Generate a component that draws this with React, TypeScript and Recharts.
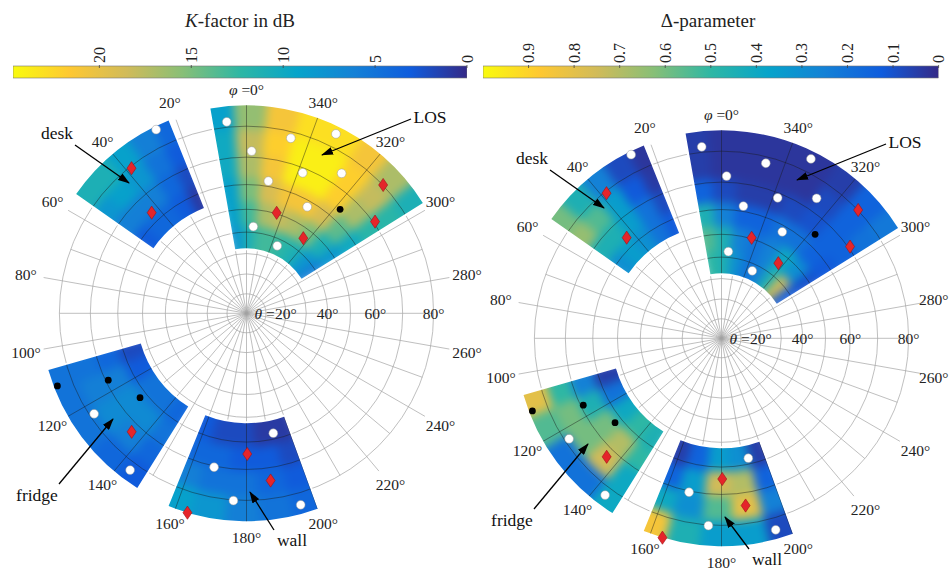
import React from 'react';
import { PieChart, Pie, Cell, PolarGrid, ScatterChart, Scatter, XAxis, YAxis, BarChart, Bar } from 'recharts';

const FONT = '"Liberation Serif", "DejaVu Serif", serif';

// panel geometry (local px), stereographic radial mapping r = K tan(theta/2)
const PW = 500;
const PH = 490;
const CX = 246.5;
const CY = 233.3;
const K = 223;
const PAGE_W = 951;
const rOf = (theta: number) => K * Math.tan(((theta / 2) * Math.PI) / 180);

// grid
const thetaCircles = [10, 20, 30, 40, 50, 60, 70, 80];
const phiMajor = [0, 20, 40, 60, 80, 100, 120, 140, 160, 180, 200, 220, 240, 260, 280, 300, 320, 340];
const phiMinor = [10, 30, 50, 70, 90, 110, 130, 150, 170, 190, 210, 230, 250, 270, 290, 310, 330, 350];
const radialLabels = [40, 60, 80];

// measured sectors
const sectorNames = ['LOS', 'desk', 'fridge', 'wall'];
const sectorPhiFrom = [302, 22, 106, 158];
const sectorPhiTo = [370, 55, 148, 200];
const sectorThetaIn = [32.5, 54, 52.5, 52.5];
const sectorThetaOut = [86, 86, 85.5, 86];

// K-factor in dB (rows: inner -> outer, columns: phiFrom -> phiTo)
const losK = [
  [6, 8, 11, 12, 13, 13, 11, 8],
  [8, 11, 15, 17, 18, 17, 13, 9],
  [10, 14, 19, 21, 21, 19, 15, 9],
  [12, 17, 22, 24, 24, 21, 17, 10],
  [12, 18, 22, 24, 24, 22, 18, 10],
  [11, 17, 21, 23, 23, 21, 16, 9],
];
const deskK = [
  [1, 3, 4, 4, 3],
  [2, 4, 6, 6, 6],
  [3, 5, 8, 9, 8],
  [4, 6, 9, 11, 11],
];
const fridgeK = [
  [2, 3, 5, 5, 4],
  [4, 6, 7, 7, 5],
  [5, 6, 7, 6, 4],
  [5, 5, 5, 4, 3],
];
const wallK = [
  [3, 2, 2, 1, 1],
  [4, 4, 3, 3, 2],
  [6, 5, 5, 4, 3],
  [9, 8, 6, 5, 4],
];

// Delta-parameter
const losD = [
  [0.12, 0.75, 0.45, 0.25, 0.2, 0.3, 0.45, 0.5],
  [0.1, 0.3, 0.4, 0.25, 0.2, 0.25, 0.45, 0.55],
  [0.12, 0.15, 0.2, 0.2, 0.15, 0.15, 0.25, 0.45],
  [0.15, 0.15, 0.1, 0.08, 0.05, 0.05, 0.08, 0.15],
  [0.2, 0.15, 0.08, 0.03, 0.03, 0.03, 0.03, 0.05],
  [0.22, 0.15, 0.05, 0.03, 0.03, 0.03, 0.03, 0.05],
];
const deskD = [
  [0.12, 0.2, 0.3, 0.35, 0.3],
  [0.08, 0.2, 0.35, 0.45, 0.45],
  [0.04, 0.12, 0.35, 0.55, 0.65],
  [0.03, 0.08, 0.25, 0.45, 0.6],
];
const fridgeD = [
  [0.05, 0.2, 0.4, 0.5, 0.45],
  [0.25, 0.45, 0.6, 0.7, 0.5],
  [0.5, 0.6, 0.6, 0.75, 0.4],
  [0.8, 0.55, 0.2, 0.2, 0.4],
];
const wallD = [
  [0.05, 0.15, 0.35, 0.3, 0.05],
  [0.15, 0.35, 0.75, 0.7, 0.15],
  [0.4, 0.3, 0.55, 0.8, 0.25],
  [0.85, 0.45, 0.35, 0.35, 0.08],
];

// measurement positions [phi, theta] in degrees
const whitePoints = [
  [5.9, 81.6], [345.8, 78.0], [333.5, 83.9], [358.2, 72.1], [338.2, 68.3],
  [325.8, 74.4], [350.6, 62.0], [330.3, 57.6], [355.5, 42.6], [335.5, 36.8],
  [26.2, 85.1], [123.4, 78.6], [143.4, 82.4],
  [192.6, 57.7], [168.1, 70.4], [176.0, 80.2], [195.8, 83.5],
];
const blackPoints = [[318, 64.2], [111.0, 84.5], [115.8, 69.1], [128.4, 62.7]];
const redPoints = [
  [313.2, 80.1], [343.3, 50.4], [305.5, 70.6], [322.9, 45.8],
  [38.4, 79.4], [43.3, 63.6], [135.9, 73.0],
  [180.3, 64.5], [188.2, 74.3], [163.5, 86.0],
];

// colour bars
const kTicks = [0, 5, 10, 15, 20];
const dTicks = [0, 0.1, 0.2, 0.3, 0.4, 0.5, 0.6, 0.7, 0.8, 0.9];
const K_MAX = 24.7;
const D_MAX = 1;

const PARULA = ['#352a87', '#0f5cdd', '#1481d6', '#06a4ca', '#2eb7a4', '#87bf77', '#d1bb59', '#fec832', '#f9fb0e'];

const hex = (h: string) => [1, 3, 5].map((i) => parseInt(h.slice(i, i + 2), 16));
function parula(t: number) {
  const c = Math.max(0, Math.min(1, t)) * (PARULA.length - 1);
  const i = Math.min(Math.floor(c), PARULA.length - 2);
  const f = c - i;
  const a = hex(PARULA[i]);
  const b = hex(PARULA[i + 1]);
  const m = a.map((v, k) => Math.round(v + (b[k] - v) * f));
  return `rgb(${m[0]},${m[1]},${m[2]})`;
}

const pt = (phi: number, r: number) => {
  const a = (phi * Math.PI) / 180;
  return [CX - r * Math.sin(a), CY - r * Math.cos(a)];
};
const f2 = (v: number) => v.toFixed(2);

function sectorD(s: number) {
  const ri = rOf(sectorThetaIn[s]);
  const ro = rOf(sectorThetaOut[s]);
  const [x1, y1] = pt(sectorPhiFrom[s], ro);
  const [x2, y2] = pt(sectorPhiTo[s], ro);
  const [x3, y3] = pt(sectorPhiTo[s], ri);
  const [x4, y4] = pt(sectorPhiFrom[s], ri);
  return `M${f2(x1)},${f2(y1)} A${f2(ro)},${f2(ro)} 0 0 0 ${f2(x2)},${f2(y2)} L${f2(x3)},${f2(y3)} A${f2(ri)},${f2(ri)} 0 0 1 ${f2(x4)},${f2(y4)} Z`;
}
const CLIP = `path('${sectorNames.map((_, s) => sectorD(s)).join(' ')}')`;

const toXY = (pts: number[][]) =>
  pts.map(([phi, theta]) => {
    const a = (phi * Math.PI) / 180;
    const r = rOf(theta);
    return { x: -r * Math.sin(a), y: r * Math.cos(a) };
  });

const abs: React.CSSProperties = { position: 'absolute', left: 0, top: 0 };
const NO_MARGIN = { top: 0, right: 0, bottom: 0, left: 0 };
const serif: React.CSSProperties = { fontFamily: FONT };

const WhiteDot = (p: any) => <circle cx={p.cx} cy={p.cy} r={4.4} fill="#fff" stroke="#999" strokeWidth={0.5} />;
const BlackDot = (p: any) => <circle cx={p.cx} cy={p.cy} r={3.4} fill="#000" />;
const RedDiamond = (p: any) => (
  <path
    d={`M${p.cx},${p.cy - 6.6} L${p.cx + 4.5},${p.cy} L${p.cx},${p.cy + 6.6} L${p.cx - 4.5},${p.cy} Z`}
    fill="#e5252a"
    stroke="#a01015"
    strokeWidth={0.6}
  />
);

const notes = [
  { text: 'LOS', tx: 430, ty: 37, x1: 411, y1: 39, x2: 322, y2: 75 },
  { text: 'desk', tx: 57, ty: 53, x1: 75, y1: 65, x2: 129, y2: 103 },
  { text: 'fridge', tx: 37, ty: 415, x1: 59, y1: 404, x2: 113, y2: 339 },
  { text: 'wall', tx: 292, ty: 460, x1: 274, y1: 450, x2: 250, y2: 412 },
];

function Panel({ left, top, grids, max, id, wallDy }: { left: number; top: number; grids: number[][][]; max: number; id: string; wallDy: number }) {
  // keep the angle labels inside the page
  const maxLabelX = PAGE_W - left - 17;
  return (
    <div style={{ position: 'absolute', left, top, width: PW, height: PH }}>
      {/* light polar grid */}
      <div style={abs}>
        <PieChart width={PW} height={PH} cx={CX} cy={CY} innerRadius={0} outerRadius={rOf(80)} margin={NO_MARGIN}>
          <PolarGrid
            gridType="circle"
            cx={CX}
            cy={CY}
            innerRadius={0}
            outerRadius={rOf(80)}
            polarAngles={phiMinor.map((a) => 90 + a)}
            polarRadius={thetaCircles.map(rOf)}
            stroke="#a3a3a3"
            strokeWidth={0.7}
          />
        </PieChart>
      </div>
      <div style={abs}>
        <PieChart width={PW} height={PH} cx={CX} cy={CY} innerRadius={0} outerRadius={206} margin={NO_MARGIN}>
          <PolarGrid
            gridType="circle"
            cx={CX}
            cy={CY}
            innerRadius={0}
            outerRadius={206}
            polarAngles={phiMajor.map((a) => 90 + a)}
            polarRadius={[]}
            stroke="#a3a3a3"
            strokeWidth={0.7}
          />
          {sectorNames.map((n, s) => (
            <Pie
              key={n}
              data={[{ w: 1 }]}
              dataKey="w"
              cx={CX}
              cy={CY}
              startAngle={90 + sectorPhiFrom[s]}
              endAngle={90 + sectorPhiTo[s]}
              innerRadius={rOf(sectorThetaIn[s])}
              outerRadius={rOf(sectorThetaOut[s])}
              fill="#fff"
              stroke="#fff"
              strokeWidth={4}
              isAnimationActive={false}
            />
          ))}
        </PieChart>
      </div>
      {/* heat map cells, smoothed and clipped to the sectors */}
      <div style={{ ...abs, width: PW, height: PH, filter: 'blur(5px)', clipPath: CLIP }}>
        <PieChart width={PW} height={PH} cx={CX} cy={CY} margin={NO_MARGIN}>
          {grids.flatMap((grid, s) => {
            const ri = rOf(sectorThetaIn[s]);
            const ro = rOf(sectorThetaOut[s]);
            const step = (ro - ri) / grid.length;
            return grid.map((row, i) => (
              <Pie
                key={`${s}-${i}`}
                data={row.map((v) => ({ w: 1, v }))}
                dataKey="w"
                cx={CX}
                cy={CY}
                startAngle={90 + sectorPhiFrom[s] - 3}
                endAngle={90 + sectorPhiTo[s] + 3}
                innerRadius={ri + i * step - (i === 0 ? 10 : 0)}
                outerRadius={ri + (i + 1) * step + (i === grid.length - 1 ? 10 : 0)}
                paddingAngle={0}
                isAnimationActive={false}
              >
                {row.map((v, j) => (
                  <Cell key={j} fill={parula(v / max)} stroke={parula(v / max)} strokeWidth={1.5} />
                ))}
              </Pie>
            ));
          })}
        </PieChart>
      </div>
      {/* darker grid over the sectors */}
      <div style={{ ...abs, width: PW, height: PH, clipPath: CLIP }}>
        <PieChart width={PW} height={PH} cx={CX} cy={CY} innerRadius={0} outerRadius={212} margin={NO_MARGIN}>
          <PolarGrid
            gridType="circle"
            cx={CX}
            cy={CY}
            innerRadius={0}
            outerRadius={212}
            polarAngles={phiMajor.map((a) => 90 + a)}
            polarRadius={thetaCircles.map(rOf)}
            stroke="#1a1a1a"
            strokeOpacity={0.55}
            strokeWidth={0.8}
          />
        </PieChart>
      </div>
      {/* measurement points */}
      <div style={abs}>
        <ScatterChart width={PW} height={PH} margin={NO_MARGIN}>
          <XAxis type="number" dataKey="x" domain={[-CX, PW - CX]} allowDataOverflow hide />
          <YAxis type="number" dataKey="y" domain={[CY - PH, CY]} allowDataOverflow hide />
          <Scatter data={toXY(whitePoints)} shape={WhiteDot} isAnimationActive={false} />
          <Scatter data={toXY(blackPoints)} shape={BlackDot} isAnimationActive={false} />
          <Scatter data={toXY(redPoints)} shape={RedDiamond} isAnimationActive={false} />
        </ScatterChart>
      </div>
      {/* labels and annotations */}
      <svg style={{ ...abs, ...serif }} width={PW} height={PH}>
        <defs>
          <marker id={`arrow-${id}`} markerUnits="userSpaceOnUse" markerWidth={12} markerHeight={8} refX={11} refY={4} orient="auto">
            <path d="M0,0 L12,4 L0,8 Z" fill="#000" />
          </marker>
        </defs>
        {phiMajor.map((phi) => {
          const [x, y] = pt(phi, 224);
          return (
            <text key={phi} x={Math.min(x, maxLabelX)} y={y} textAnchor="middle" dominantBaseline="central" fontSize={15.5} fill="#222" style={serif}>
              {phi === 0 ? (
                <>
                  <tspan fontStyle="italic">φ</tspan> =0°
                </>
              ) : (
                `${phi}°`
              )}
            </text>
          );
        })}
        <text x={CX + rOf(20) - 11} y={CY} textAnchor="end" dominantBaseline="central" fontSize={15.5} fill="#222" style={serif}>
          <tspan fontStyle="italic">θ</tspan> =
        </text>
        <text x={CX + rOf(20)} y={CY} textAnchor="middle" dominantBaseline="central" fontSize={15.5} fill="#222" style={serif}>
          20°
        </text>
        {radialLabels.map((t) => (
          <text key={t} x={CX + rOf(t)} y={CY} textAnchor="middle" dominantBaseline="central" fontSize={15.5} fill="#222" style={serif}>
            {t}°
          </text>
        ))}
        {notes.map((n) => {
          const dy = n.text === 'wall' ? wallDy : 0;
          return (
            <g key={n.text}>
              <line x1={n.x1} y1={n.y1 + dy} x2={n.x2} y2={n.y2} stroke="#000" strokeWidth={1.3} markerEnd={`url(#arrow-${id})`} />
              <text x={n.tx} y={n.ty + dy} textAnchor="middle" dominantBaseline="central" fontSize={17.5} fill="#111" style={serif}>
                {n.text}
              </text>
            </g>
          );
        })}
      </svg>
    </div>
  );
}

function ColorBar({ x0, x1, max, ticks }: { x0: number; x1: number; max: number; ticks: number[] }) {
  const data = [{ name: 'bar', v: max }];
  const tick = (p: any) => (
    <g>
      <line x1={p.x} x2={p.x} y1={65} y2={68} stroke="#444" strokeWidth={0.8} />
      <text
        x={p.x}
        y={63}
        transform={`rotate(-90 ${p.x} 63)`}
        textAnchor="start"
        dominantBaseline="central"
        fontSize={16}
        fill="#222"
        style={serif}
      >
        {p.payload.value}
      </text>
    </g>
  );
  return (
    <div style={{ position: 'absolute', left: x0 - 10, top: 0 }}>
      <BarChart
        width={x1 - x0 + 20}
        height={82}
        layout="vertical"
        data={data}
        margin={{ top: 65, right: 10, bottom: 4, left: 10 }}
        barCategoryGap={0}
      >
        <XAxis
          type="number"
          orientation="top"
          domain={[0, max]}
          reversed
          ticks={ticks}
          interval={0}
          height={1}
          axisLine={false}
          tickLine={false}
          tick={tick}
          allowDataOverflow
        />
        <YAxis type="category" dataKey="name" hide />
        <Bar dataKey="v" fill="url(#parulaH)" stroke="#777" strokeWidth={0.6} isAnimationActive={false} />
      </BarChart>
    </div>
  );
}

export default function App() {
  return (
    <div style={{ position: 'absolute', left: 0, top: 0, width: PAGE_W, height: 570, overflow: 'hidden', background: '#fff' }}>
      <svg width={0} height={0} style={{ position: 'absolute' }}>
        <defs>
          <linearGradient id="parulaH" x1="0" y1="0" x2="1" y2="0">
            {PARULA.map((c, i) => (
              <stop key={i} offset={i / (PARULA.length - 1)} stopColor={PARULA[PARULA.length - 1 - i]} />
            ))}
          </linearGradient>
        </defs>
      </svg>
      <svg style={{ ...abs, ...serif }} width={PAGE_W} height={40}>
        <text x={240} y={27} textAnchor="middle" fontSize={19} fill="#222" style={serif}>
          <tspan fontStyle="italic">K</tspan>-factor in dB
        </text>
        <text x={708} y={27} textAnchor="middle" fontSize={19} fill="#222" style={serif}>
          Δ-parameter
        </text>
      </svg>
      <ColorBar x0={12.7} x1={466.7} max={K_MAX} ticks={kTicks} />
      <ColorBar x0={482.7} x1={938.3} max={D_MAX} ticks={dTicks} />
      <Panel left={0} top={80} grids={[losK, deskK, fridgeK, wallK]} max={K_MAX} id="k" wallDy={0} />
      <Panel left={475.2} top={105} grids={[losD, deskD, fridgeD, wallD]} max={D_MAX} id="d" wallDy={-6} />
    </div>
  );
}
